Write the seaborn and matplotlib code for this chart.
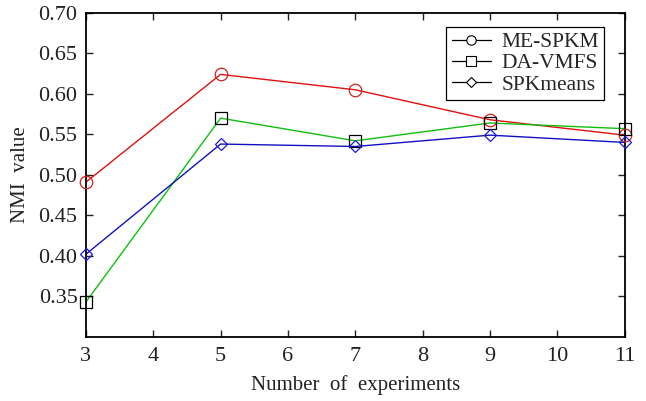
import numpy as np
import pandas as pd
import matplotlib
matplotlib.use("Agg")
import matplotlib.pyplot as plt
import seaborn as sns
from matplotlib.lines import Line2D

# data
experiments = [3, 5, 7, 9, 11]
me_spkm = [0.491, 0.624, 0.605, 0.568, 0.549]
da_vmfs = [0.343, 0.570, 0.542, 0.564, 0.557]
spkmeans = [0.402, 0.538, 0.535, 0.549, 0.540]
methods = ["ME-SPKM", "DA-VMFS", "SPKmeans"]
yticks = [0.35, 0.40, 0.45, 0.50, 0.55, 0.60, 0.65, 0.70]

df = pd.DataFrame({
    "x": experiments * 3,
    "y": me_spkm + da_vmfs + spkmeans,
    "method": [m for m in methods for _ in experiments],
})

sns.set_style("ticks")
plt.rcParams["font.family"] = ["Liberation Serif", "DejaVu Serif"]
plt.rcParams["xtick.direction"] = "in"
plt.rcParams["ytick.direction"] = "in"

fig = plt.figure(figsize=(6.46, 4.01), dpi=100)
ax = fig.add_axes([0.133, 0.160, 0.834, 0.808])

line_colors = {"ME-SPKM": "#e01010", "DA-VMFS": "#10c010", "SPKmeans": "#1010c0"}
marker_edges = {"ME-SPKM": "#d02020", "DA-VMFS": "black", "SPKmeans": "#1a1ad0"}
markers = {"ME-SPKM": "o", "DA-VMFS": "s", "SPKmeans": "D"}
msizes = {"ME-SPKM": 9, "DA-VMFS": 9, "SPKmeans": 6.5}

for m in methods:
    sub = df[df["method"] == m]
    sns.lineplot(data=sub, x="x", y="y", ax=ax, color=line_colors[m],
                 linewidth=1.0, legend=False)
    ax.plot(sub["x"], sub["y"], linestyle="none", marker=markers[m],
            markersize=msizes[m], markerfacecolor="none",
            markeredgecolor=marker_edges[m], markeredgewidth=0.9,
            clip_on=False, zorder=5)

ax.set_xlim(3, 11)
ax.set_ylim(0.30, 0.70)
ax.set_xticks(range(3, 12))
ax.set_yticks(yticks)
ax.set_yticklabels([f"{v:.2f}" for v in yticks])
ax.tick_params(axis="both", which="both", top=True, right=True,
               labelsize=16, length=5, width=1.0, colors="#222222",
               labelcolor="#222222")
ax.tick_params(axis="y", pad=6)
ax.tick_params(axis="x", pad=7)
for s in ax.spines.values():
    s.set_linewidth(1.3)
    s.set_color("black")

ax.set_xlabel("Number  of  experiments", fontsize=15, color="#222222", labelpad=7)
ax.set_ylabel("NMI  value", fontsize=15, color="#222222", labelpad=6)

handles = [Line2D([0], [0], color="black", linewidth=0.9, marker=markers[m],
                  markersize=msizes[m] * 0.75, markerfacecolor="white",
                  markeredgecolor="black", markeredgewidth=0.8)
           for m in methods]
leg = ax.legend(handles, methods, loc="upper right",
                bbox_to_anchor=(0.97, 0.97), fontsize=15.5, frameon=True,
                fancybox=False, edgecolor="black", framealpha=1,
                handlelength=1.8, borderpad=0.25, labelspacing=0.05,
                handletextpad=0.5, borderaxespad=0.2)
leg.get_frame().set_linewidth(0.9)

fig.savefig("out.png", dpi=100)
